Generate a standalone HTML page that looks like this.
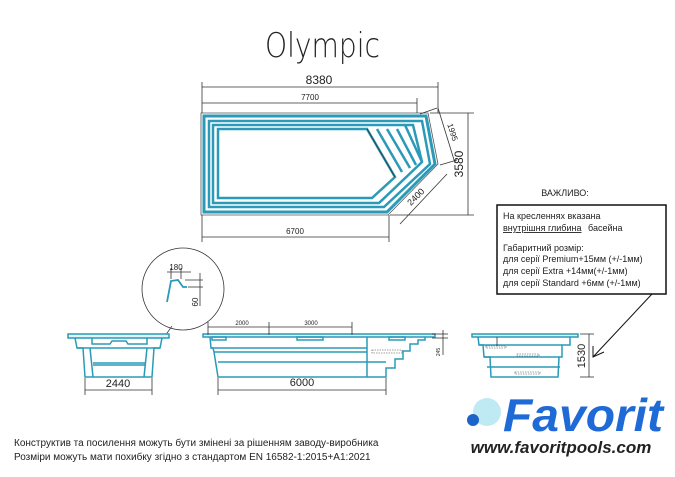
<!DOCTYPE html>
<html><head><meta charset="utf-8"><style>
body{margin:0;background:#fff;width:675px;height:477px;overflow:hidden}
svg{display:block}
text{font-family:"Liberation Sans",sans-serif;fill:#222}
.d{stroke:#333;stroke-width:0.8;fill:none}
.b{stroke:#2a9ab8;fill:none}
</style></head><body>
<svg width="675" height="477" viewBox="0 0 675 477">
<text x="265" y="57" font-size="34" textLength="115" lengthAdjust="spacingAndGlyphs" style="font-family:'DejaVu Sans',sans-serif;font-weight:200" fill="#222">Olympic</text>

<!-- plan -->
<g>
<polygon points="201,113 428,113 438,164 388,215 201,215" fill="#fff" stroke="#555" stroke-width="0.8"/>
<polygon points="204,116 426,116 435,164 387,212 204,212" class="b" stroke-width="3"/>
<polygon points="209,121 422,121 430,164 384,207 209,207" class="b" stroke-width="2.5"/>
<polygon points="213,125 413,125 422,162 379,203 213,203" class="b" stroke-width="2.5"/>
<polygon points="218,129 367,129 395,177 372,198 218,198" class="b" stroke-width="2.5"/>
<g class="b" stroke-width="2.5">
<line x1="377" y1="129" x2="402" y2="172"/>
<line x1="387" y1="129" x2="410" y2="168"/>
<line x1="397" y1="129" x2="416" y2="165"/>
<line x1="405" y1="125" x2="422" y2="162"/>
</g>
<line x1="367" y1="129" x2="395" y2="177" stroke="#333" stroke-width="0.8"/>
</g>
<!-- plan dims -->
<g class="d">
<line x1="202" y1="87" x2="438" y2="87"/><line x1="202" y1="82" x2="202" y2="113"/><line x1="438" y1="82" x2="438" y2="113"/>
<line x1="202" y1="103" x2="417" y2="103"/><line x1="417" y1="98" x2="417" y2="113"/>
<line x1="202" y1="237" x2="389" y2="237"/><line x1="202" y1="215" x2="202" y2="242"/><line x1="389" y1="215" x2="389" y2="242"/>
<line x1="468" y1="113" x2="468" y2="215"/><line x1="430" y1="113" x2="474" y2="113"/><line x1="390" y1="215" x2="474" y2="215"/>
<line x1="420" y1="114" x2="437" y2="108"/><line x1="438" y1="108" x2="455" y2="163"/><line x1="440" y1="165" x2="457" y2="160"/>
<line x1="447" y1="174" x2="400" y2="224"/>
</g>
<text x="319" y="84" font-size="12" text-anchor="middle">8380</text>
<text x="310" y="100" font-size="8" text-anchor="middle">7700</text>
<text x="295" y="234" font-size="8" text-anchor="middle">6700</text>
<text font-size="12" text-anchor="middle" transform="translate(463,164) rotate(-90)">3580</text>
<text font-size="8" text-anchor="middle" transform="translate(450,133) rotate(72)">1995</text>
<text font-size="9" text-anchor="middle" transform="translate(418,199) rotate(-45)">2400</text>

<!-- detail circle -->
<circle cx="183" cy="289" r="41" fill="none" stroke="#333" stroke-width="0.8"/>
<line x1="172" y1="326" x2="165" y2="336" stroke="#333" stroke-width="0.7"/>
<polyline points="167,302 171,281 178,280 183,287 187,287" fill="none" stroke="#2a9ab8" stroke-width="1.8"/>
<g class="d"><line x1="167" y1="272" x2="191" y2="272"/><line x1="171" y1="268" x2="171" y2="279"/><line x1="181" y1="268" x2="181" y2="279"/>
<line x1="200" y1="273" x2="200" y2="306"/><line x1="185" y1="280" x2="203" y2="280"/><line x1="188" y1="287" x2="203" y2="287"/></g>
<text x="176" y="270" font-size="8" text-anchor="middle">180</text>
<text font-size="8" text-anchor="middle" transform="translate(198,302) rotate(-90)">60</text>

<!-- left end view -->
<g class="b" stroke-width="1.5">
<rect x="68" y="334" width="101" height="4" fill="#dff3f8"/>
<polyline points="75,338 77,348 83,348 85,377 152,377 154,348 160,348 162,338"/>
<polyline points="77,348 160,348"/>
<polyline points="92,338 92,344 110,344 112,341 126,341 128,344 147,344 147,338"/>
<line x1="93" y1="363" x2="145" y2="363"/><line x1="93" y1="365" x2="145" y2="365"/>
<line x1="90" y1="348" x2="93" y2="377"/><line x1="147" y1="348" x2="144" y2="377"/>
</g>
<g class="d"><line x1="85" y1="390" x2="152" y2="390"/><line x1="85" y1="378" x2="85" y2="395"/><line x1="152" y1="378" x2="152" y2="395"/></g>
<text x="118" y="387" font-size="11" text-anchor="middle">2440</text>

<!-- long side view -->
<g class="b" stroke-width="1.5">
<rect x="203" y="334" width="232" height="3" fill="#dff3f8"/>
<polyline points="210,337 211,348 213,348 214,352 218,377 386,377 386,368 395,368 395,359 403,359 403,351 410,351 410,344 418,344 418,340 425,340 425,337"/>
<line x1="211" y1="348" x2="367" y2="348"/><line x1="214" y1="352" x2="367" y2="352"/>
<line x1="218" y1="362" x2="367" y2="362"/>
<line x1="367" y1="337" x2="367" y2="377"/>
<line x1="367" y1="362" x2="386" y2="362"/>
<rect x="212" y="337" width="14" height="3"/><rect x="297" y="337" width="26" height="3"/><rect x="389" y="337" width="16" height="3"/>
</g>
<rect x="372" y="350" width="30" height="3" fill="none" stroke="#444" stroke-width="0.6" stroke-dasharray="1.5,1"/>
<g class="d">
<line x1="208" y1="327" x2="352" y2="327"/><line x1="208" y1="322" x2="208" y2="335"/><line x1="269" y1="322" x2="269" y2="335"/><line x1="352" y1="322" x2="352" y2="335"/>
<line x1="218" y1="390" x2="386" y2="390"/><line x1="218" y1="378" x2="218" y2="395"/><line x1="386" y1="378" x2="386" y2="395"/>
<line x1="443" y1="330" x2="443" y2="355"/><line x1="432" y1="334" x2="448" y2="334"/><line x1="432" y1="338" x2="448" y2="338"/>
</g>
<text x="242" y="325" font-size="6" text-anchor="middle">2000</text>
<text x="311" y="325" font-size="6" text-anchor="middle">3000</text>
<text x="302" y="386" font-size="11" text-anchor="middle">6000</text>
<text font-size="5" text-anchor="middle" transform="translate(440,352) rotate(-90)">245</text>

<!-- right end view -->
<g class="b" stroke-width="1.5">
<rect x="472" y="334" width="106" height="3" fill="#dff3f8"/>
<polyline points="478,337 479,345 483,345 484,357 490,357 491,377 558,377 559,357 562,357 562,345 570,345 570,337"/>
<line x1="479" y1="345" x2="562" y2="345"/><line x1="484" y1="357" x2="559" y2="357"/><line x1="487" y1="367" x2="560" y2="367"/>
</g>
<g fill="none" stroke="#444" stroke-width="0.6" stroke-dasharray="1.5,1">
<rect x="486" y="346" width="20" height="2"/><rect x="517" y="354" width="22" height="2"/><rect x="515" y="372" width="25" height="2"/>
</g>
<g class="d"><line x1="589" y1="334" x2="589" y2="377"/><line x1="580" y1="334" x2="594" y2="334"/><line x1="580" y1="377" x2="594" y2="377"/><line x1="497" y1="337" x2="497" y2="346"/></g>
<text font-size="11" text-anchor="middle" transform="translate(585,356) rotate(-90)">1530</text>

<!-- note -->
<text x="565" y="196" font-size="9" text-anchor="middle">ВАЖЛИВО:</text>
<rect x="497" y="205" width="169" height="89" fill="#fff" stroke="#111" stroke-width="1.5"/>
<g font-size="9">
<text x="503" y="219">На кресленнях вказана</text>
<text x="503" y="231" text-decoration="underline">внутрішня глибина </text><text x="588" y="231">басейна</text>
<text x="503" y="251">Габаритний розмір:</text>
<text x="503" y="262">для серії Premium+15мм (+/-1мм)</text>
<text x="503" y="274">для серії Extra +14мм(+/-1мм)</text>
<text x="503" y="286">для серії Standard +6мм (+/-1мм)</text>
</g>
<line x1="652" y1="294" x2="593" y2="357" stroke="#111" stroke-width="1"/>
<polyline points="593,346 593,357 604,352" fill="none" stroke="#111" stroke-width="1"/>

<!-- bottom text -->
<text x="14" y="446" font-size="10">Конструктив та посилення можуть бути змінені за рішенням заводу-виробника</text>
<text x="14" y="460" font-size="10">Розміри можуть мати похибку згідно з стандартом EN 16582-1:2015+A1:2021</text>

<!-- logo -->
<circle cx="487" cy="412" r="14" fill="#bfe9f3"/>
<circle cx="473" cy="420" r="6" fill="#1e64c8"/>
<text x="503" y="431" font-size="46" font-weight="bold" font-style="italic" textLength="160" lengthAdjust="spacingAndGlyphs" style="fill:#1e6ad6">Favorit</text>
<text x="561" y="453" font-size="17" font-weight="bold" font-style="italic" text-anchor="middle" fill="#111">www.favoritpools.com</text>
</svg>
</body></html>
